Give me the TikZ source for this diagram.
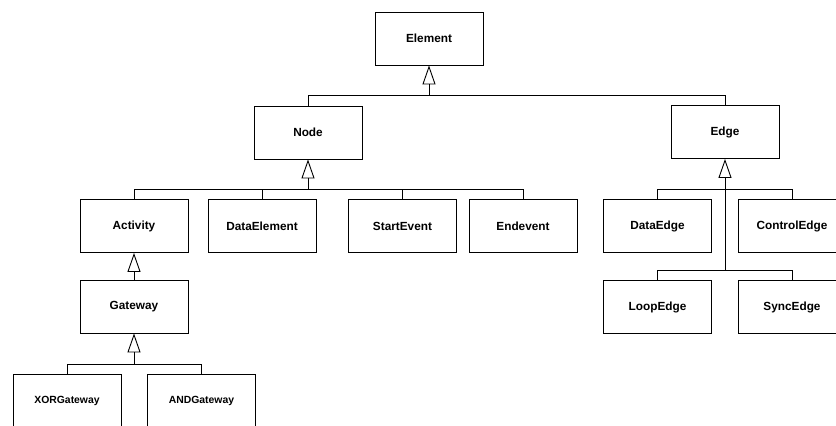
\documentclass[tikz,border=0pt]{standalone}
\usepackage{fontspec}
\setmainfont{Liberation Sans}
\usetikzlibrary{arrows.meta}
\begin{document}
\begin{tikzpicture}[x=1pt,y=-1pt,
  cls/.style={draw, line width=0.9pt, minimum width=108pt, minimum height=53pt, inner sep=0pt,
    font=\fontsize{11.8}{13}\selectfont\bfseries},
  smallcls/.style={cls, font=\fontsize{10.4}{12}\selectfont\bfseries},
  gen/.style={line width=0.9pt, -{Triangle[open,length=19pt,width=13pt]}},
  ln/.style={line width=0.9pt}]
\clip (0,0) rectangle (836,426);
\node[cls] (element) at (429,38.5) {Element};
\node[cls] (node) at (308,132.5) {Node};
\node[cls] (edge) at (725,132) {Edge};
\node[cls] (activity) at (134,226) {Activity};
\node[cls] (dataelement) at (262,226) {DataElement};
\node[cls] (startevent) at (402.5,226) {StartEvent};
\node[cls] (endevent) at (523,226) {Endevent};
\node[cls] (gateway) at (134,306.5) {Gateway};
\node[smallcls] (xor) at (67,400.5) {XORGateway};
\node[smallcls] (and) at (201.5,400.5) {ANDGateway};
\node[cls] (dataedge) at (657.5,226) {DataEdge};
\node[cls] (controledge) at (792,226) {ControlEdge};
\node[cls] (loopedge) at (657.5,307) {LoopEdge};
\node[cls] (syncedge) at (792,307) {SyncEdge};
% junctions
\coordinate (j1) at (429,95);
\coordinate (j2) at (308,189);
\coordinate (j3) at (134,364);
\coordinate (j4) at (725,189);
\coordinate (j5) at (725,270);
% Element
\draw[gen] (j1) -- (element.south);
\draw[ln] (node.north) |- (j1);
\draw[ln] (edge.north) |- (j1);
% Node
\draw[gen] (j2) -- (node.south);
\draw[ln] (activity.north) |- (j2);
\draw[ln] (dataelement.north) |- (j2);
\draw[ln] (startevent.north) |- (j2);
\draw[ln] (endevent.north) |- (j2);
% Activity
\draw[gen] (gateway.north) -- (activity.south);
% Gateway
\draw[gen] (j3) -- (gateway.south);
\draw[ln] (xor.north) |- (j3);
\draw[ln] (and.north) |- (j3);
% Edge
\draw[gen] (j5) -- (edge.south);
\draw[ln] (dataedge.north) |- (j4);
\draw[ln] (controledge.north) |- (j4);
\draw[ln] (loopedge.north) |- (j5);
\draw[ln] (syncedge.north) |- (j5);
\end{tikzpicture}
\end{document}
